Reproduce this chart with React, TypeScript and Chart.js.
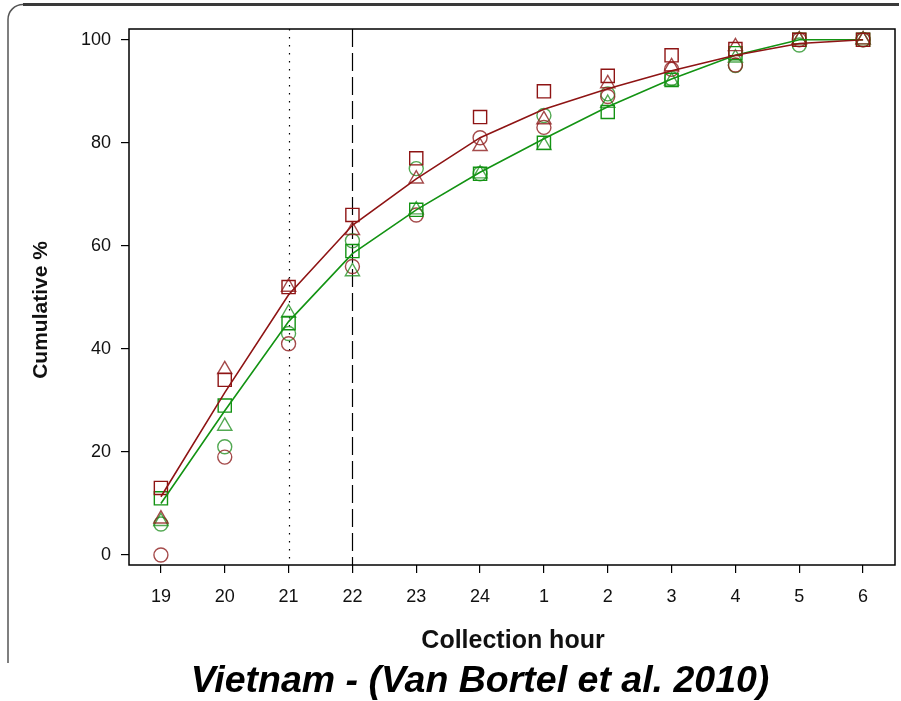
import { useEffect, useRef } from 'react';
import { Chart, registerables } from 'chart.js';

Chart.register(...registerables);

// ---- data ----
const hours = ['19', '20', '21', '22', '23', '24', '1', '2', '3', '4', '5', '6'];
const yTicks = [0, 20, 40, 60, 80, 100];

const redSquare = [13, 34, 52, 66, 77, 85, 90, 93, 97, 98.2, 100, 100];
const redTriangle = [7, 36, 52, 63, 73, 79.3, 84.5, 91.5, 94.8, 98.7, 100, 100];
const redCircle = [0, 19, 41, 56, 66, 81, 83, 89, 94.3, 95.1, 100, 100];
const redFit = [11.3, 31.5, 50.5, 64, 73, 81, 86.5, 90.5, 94, 97, 99.3, 100];

const greenSquare = [11, 29, 45, 59, 67, 74, 80, 86, 92.2, 97.4, 100, 100];
const greenTriangle = [6.5, 25, 47, 55, 67, 74, 79.5, 87.7, 92, 96.5, 100, 100];
const greenCircle = [6, 21, 43, 61, 75, 74, 85.3, 89.5, 92.5, 95, 99, 100];
const greenFit = [10, 28, 45.3, 58.5, 67, 74.3, 80.8, 87, 92.4, 97, 100, 100];

const dottedHour = '21';
const dashedHour = '22';

const yTitle = 'Cumulative %';
const xTitle = 'Collection hour';
const mainTitle = 'Vietnam - (Van Bortel et al. 2010)';

const RED = '#8e1414';
const RED_SOFT = 'rgba(142,30,30,0.8)';
const GREEN = '#139313';
const GREEN_SOFT = 'rgba(25,140,25,0.75)';
const FONT = "'Liberation Sans', Arial, sans-serif";

const pointSet = (label: string, data: number[], style: string, color: string, radius: number) => ({
  label,
  data,
  showLine: false,
  pointStyle: style,
  pointRadius: radius,
  pointBorderWidth: 1.4,
  pointBorderColor: color,
  pointBackgroundColor: 'rgba(0,0,0,0)',
  borderColor: color,
  backgroundColor: 'rgba(0,0,0,0)',
});

const lineSet = (label: string, data: number[], color: string) => ({
  label,
  data,
  borderColor: color,
  borderWidth: 1.6,
  pointRadius: 0,
  tension: 0,
  fill: false,
});

const decorPlugin = {
  id: 'decor',
  beforeDraw(chart: any) {
    const ctx = chart.ctx;
    ctx.save();
    // slide frame
    ctx.strokeStyle = '#3a3a3a';
    ctx.lineWidth = 3;
    ctx.beginPath();
    ctx.moveTo(23, 4.5);
    ctx.lineTo(899, 4.5);
    ctx.stroke();
    ctx.lineWidth = 1.5;
    ctx.strokeStyle = '#555';
    ctx.beginPath();
    ctx.moveTo(8, 663);
    ctx.lineTo(8, 20);
    ctx.arcTo(8, 4.5, 23, 4.5, 15);
    ctx.stroke();
    ctx.restore();
  },
  beforeDatasetsDraw(chart: any) {
    const { ctx, chartArea, scales } = chart;
    ctx.save();
    ctx.strokeStyle = '#000';
    ctx.lineWidth = 1.2;
    const xd = Math.round(scales.x.getPixelForValue(hours.indexOf(dottedHour))) + 0.5;
    ctx.setLineDash([1.5, 6.5]);
    ctx.beginPath();
    ctx.moveTo(xd, chartArea.top);
    ctx.lineTo(xd, chartArea.bottom);
    ctx.stroke();
    const xl = Math.round(scales.x.getPixelForValue(hours.indexOf(dashedHour))) + 0.5;
    ctx.setLineDash([18, 6]);
    ctx.beginPath();
    ctx.moveTo(xl, chartArea.top);
    ctx.lineTo(xl, chartArea.bottom);
    ctx.stroke();
    ctx.restore();
  },
  afterDraw(chart: any) {
    const { ctx, chartArea } = chart;
    ctx.save();
    ctx.strokeStyle = '#000';
    ctx.lineWidth = 1.5;
    ctx.strokeRect(chartArea.left, chartArea.top, chartArea.right - chartArea.left, chartArea.bottom - chartArea.top);
    ctx.fillStyle = '#111';
    ctx.textAlign = 'center';
    ctx.textBaseline = 'middle';
    ctx.font = `bold 21px ${FONT}`;
    ctx.save();
    ctx.translate(41, 310);
    ctx.rotate(-Math.PI / 2);
    ctx.fillText(yTitle, 0, 0);
    ctx.restore();
    ctx.font = `bold 25px ${FONT}`;
    ctx.fillText(xTitle, 513, 641);
    ctx.fillStyle = '#000';
    ctx.font = `italic bold 37.5px ${FONT}`;
    ctx.fillText(mainTitle, 480, 682);
    ctx.restore();
  },
};

export default function App() {
  const ref = useRef<HTMLCanvasElement>(null);
  useEffect(() => {
    const chart = new Chart(ref.current!, {
      type: 'line',
      data: {
        labels: hours,
        datasets: [
          lineSet('Fit red', redFit, RED),
          lineSet('Fit green', greenFit, GREEN),
          pointSet('Red squares', redSquare, 'rect', RED, 9.3),
          pointSet('Green squares', greenSquare, 'rect', GREEN, 9.3),
          pointSet('Red triangles', redTriangle, 'triangle', RED_SOFT, 8.2),
          pointSet('Green triangles', greenTriangle, 'triangle', GREEN_SOFT, 8.2),
          pointSet('Red circles', redCircle, 'circle', RED_SOFT, 7),
          pointSet('Green circles', greenCircle, 'circle', GREEN_SOFT, 7),
        ] as any,
      },
      options: {
        animation: false,
        responsive: false,
        layout: { autoPadding: false, padding: { left: 0, right: 6, top: 29, bottom: 0 } },
        plugins: { legend: { display: false }, tooltip: { enabled: false } },
        scales: {
          x: {
            type: 'category',
            offset: true,
            grid: { display: true, drawOnChartArea: false, drawTicks: true, tickLength: 8, color: '#000', lineWidth: 1.2, offset: false },
            border: { display: false },
            ticks: { color: '#111', padding: 13, font: { family: FONT, size: 18 }, maxRotation: 0, autoSkip: false },
            afterFit: (s: any) => { s.height = 136; s.paddingLeft = 0; s.paddingRight = 0; },
          },
          y: {
            type: 'linear',
            min: -1.95,
            max: 102.1,
            grid: { display: true, drawOnChartArea: false, drawTicks: true, tickLength: 8, color: '#000', lineWidth: 1.2 },
            border: { display: false },
            ticks: { color: '#111', padding: 10, font: { family: FONT, size: 18 } },
            afterBuildTicks: (s: any) => { s.ticks = yTicks.map((v) => ({ value: v })); },
            afterFit: (s: any) => { s.width = 129; s.paddingTop = 0; s.paddingBottom = 0; },
          },
        },
      },
      plugins: [decorPlugin],
    });
    return () => chart.destroy();
  }, []);
  return (
    <div style={{ position: 'absolute', left: 0, top: 0, width: 901, height: 701, background: '#fff' }}>
      <canvas ref={ref} width={901} height={701} />
    </div>
  );
}
